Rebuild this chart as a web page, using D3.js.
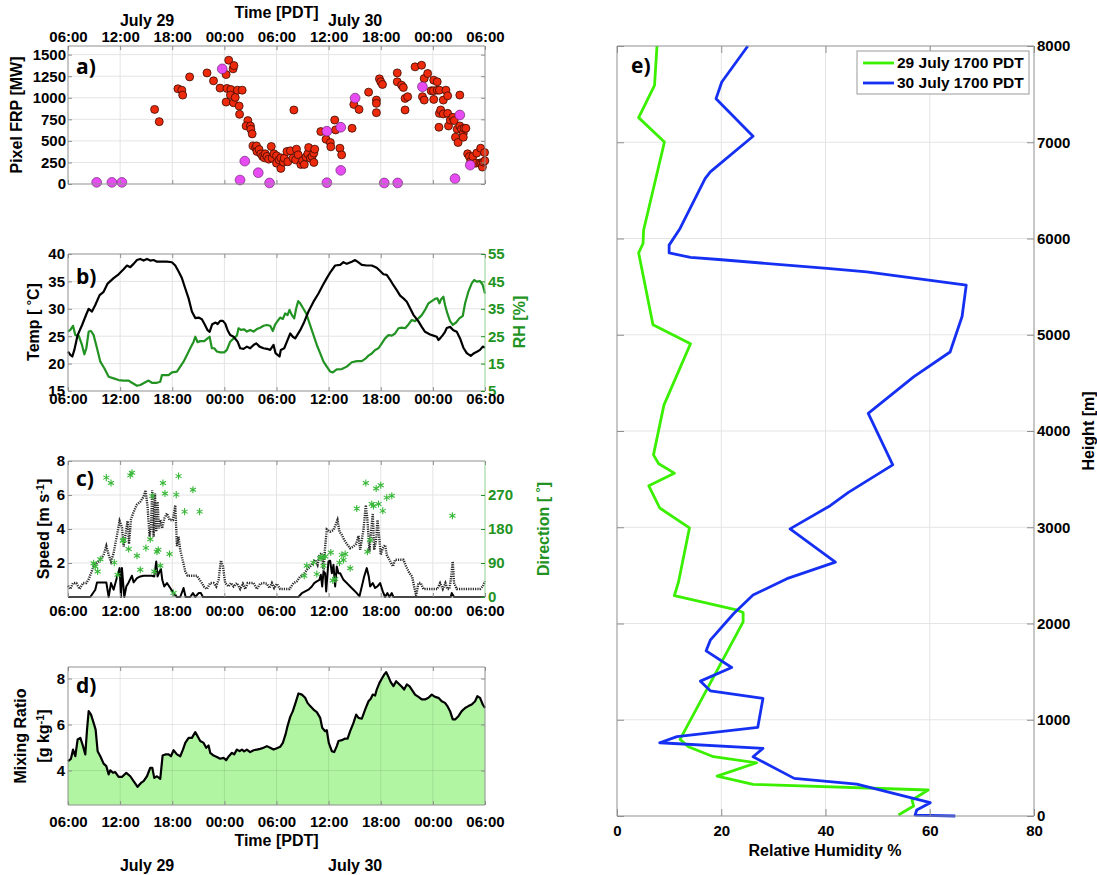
<!DOCTYPE html>
<html>
<head>
<meta charset="utf-8">
<script src="https://cdn.jsdelivr.net/npm/d3@7"></script>
<style>
  body { margin: 0; background: #fff; }
  svg text { font-family: "Liberation Sans", Arial, Helvetica, sans-serif; font-weight: bold; }
</style>
</head>
<body>
<svg id="fig" width="1097" height="875"></svg>
<script>
// ---- observations: times are hours after 06:00 PDT, 29 July ----
const frpFire = [
  [9.97,865],[10.5,723],[12.65,1104],[13.1,1088],[13.2,1031],[14.0,1242],[16.0,1288],[16.75,1196],[17.5,1112],
  [18.2,1269],[18.5,1435],[19.0,1335],[19.1,1373],[18.3,1108],[18.2,950],[18.75,1096],[18.7,1031],[19.05,942],
  [19.25,1004],[19.5,1088],[20.05,1088],[19.7,904],[19.75,808],[20.7,735],[20.5,673],[21.0,673],[21.05,635],
  [21.2,581],[21.3,442],[21.6,420],[21.7,442],[21.75,377],[22.0,400],[22.2,350],[22.4,320],[22.6,304],[22.7,350],
  [22.9,320],[23.1,288],[23.4,435],[23.5,300],[23.7,350],[24.0,327],[24.0,242],[24.3,280],[24.5,304],[24.5,181],
  [24.8,254],[24.9,300],[25.2,377],[25.3,258],[25.6,385],[25.9,300],[26.0,858],[26.2,280],[26.3,404],[26.5,338],
  [26.8,227],[27.0,270],[27.2,227],[27.4,312],[27.6,350],[27.7,423],[27.9,300],[28.1,319],[28.3,250],[28.3,358],
  [28.4,404],[29.1,608],[29.7,519],[30.2,481],[30.25,431],[30.7,742],[30.8,627],[31.3,415],[31.5,338],[32.7,646],
  [32.9,923],[33.5,865],[34.6,1065],[35.5,973],[35.5,935],[35.5,827],[35.85,1219],[36.0,1185],[36.2,1154],
  [37.9,1288],[37.9,1185],[38.4,1146],[38.6,1119],[38.8,992],[39.1,1012],[38.8,858],[39.95,1358],[40.7,1377],
  [41.0,1223],[40.8,1012],[41.0,973],[41.4,1281],[41.8,1081],[42.1,1204],[42.1,981],[42.06,1081],[42.5,1185],
  [42.5,1088],[42.75,1088],[42.75,819],[42.7,658],[42.9,858],[43.2,973],[43.5,1088],[43.7,1023],[43.2,812],
  [43.7,819],[43.8,673],[44.0,742],[44.3,773],[44.45,735],[44.8,635],[44.6,542],[44.9,481],[45.1,1031],[45.1,673],
  [45.3,635],[45.5,588],[45.5,542],[45.6,646],[45.8,646],[46.0,350],[46.2,319],[46.35,262],[46.6,319],[46.95,242],
  [47.05,358],[47.4,242],[47.5,415],[47.6,242],[47.7,196],[47.8,254],[47.95,365],[47.98,269]
];
const frpOther = [
  [3.3,19],[5.05,19],[6.2,19],[17.75,1335],[19.8,46],[20.35,265],[21.9,131],[23.2,12],[29.8,15],[29.8,612],
  [31.4,658],[31.4,158],[33.05,996],[36.4,12],[37.95,12],[40.8,1127],[44.55,62],[45.1,800],[46.3,219]
];
const temperature = [
  [0,22.2],[0.27,21.6],[0.5,21.3],[0.73,22.5],[1.11,25.2],[1.61,27.0],[2.11,29.0],[2.38,30.0],[2.76,29.5],[3.14,30.7],
  [3.64,32.5],[4.1,33.1],[4.56,34.6],[5.25,35.6],[5.83,36.3],[6.4,37.2],[6.79,37.9],[7.17,37.6],[7.55,38.2],[7.94,38.9],
  [8.32,39.1],[8.7,38.8],[9.09,39.1],[9.47,38.8],[9.85,38.9],[10.24,38.6],[10.62,38.6],[11.39,38.6],[11.96,38.5],
  [12.35,37.9],[12.73,36.8],[13.11,35.6],[13.5,33.7],[13.88,31.9],[14.26,29.5],[14.65,28.3],[15.03,28.4],[15.41,28.1],
  [15.68,27.3],[16.07,26.1],[16.3,25.8],[16.6,27.2],[16.99,27.5],[17.22,27.2],[17.52,27.8],[17.83,27.8],[18.1,27.3],
  [18.37,26.1],[18.67,25.2],[19.06,24.9],[19.52,24.0],[19.82,22.8],[20.21,22.7],[20.59,23.1],[20.97,22.8],[21.36,23.4],
  [21.66,23.7],[22.05,23.1],[22.51,22.8],[22.89,22.7],[23.27,22.5],[23.66,23.4],[23.89,21.9],[24.12,21.6],[24.35,21.3],
  [24.5,22.5],[24.89,22.8],[25.27,24.3],[25.58,25.5],[25.88,24.9],[26.15,24.6],[26.42,25.3],[26.73,26.1],[27.19,27.6],
  [27.68,29.5],[28.26,31.3],[28.83,32.8],[29.33,34.3],[29.79,35.6],[30.25,36.8],[30.75,37.9],[31.33,38.0],[31.71,38.5],
  [32.09,38.2],[32.67,38.6],[33.05,38.9],[33.32,38.6],[33.82,38.0],[34.39,37.9],[34.97,37.9],[35.54,37.5],[35.93,36.9],
  [36.31,36.3],[36.69,36.2],[37.08,35.3],[37.46,34.3],[37.84,33.4],[38.23,32.4],[38.61,31.9],[39.0,31.3],[39.38,30.1],
  [39.76,28.9],[40.34,27.7],[40.72,26.7],[41.1,25.8],[41.68,25.3],[42.06,25.1],[42.45,24.9],[42.64,24.3],[42.83,24.6],
  [43.14,25.2],[43.4,25.8],[43.6,26.5],[43.98,26.7],[44.36,26.1],[44.75,25.8],[45.13,24.6],[45.51,22.9],[45.9,21.9],
  [46.36,21.4],[46.74,21.9],[47.12,22.2],[47.43,22.5],[47.74,23.1],[48,22.9]
];
const relHumidity = [
  [0,26.7],[0.27,27.3],[0.58,28.8],[0.84,25.4],[1.23,25.2],[1.61,21.8],[1.88,18.4],[2.11,20.6],[2.38,26.7],[2.65,26.9],
  [2.95,25.4],[3.34,20.6],[3.72,15.7],[4.18,13.3],[4.68,10.2],[5.25,9.6],[5.83,9.0],[6.4,8.8],[6.98,8.8],[7.36,8.0],
  [7.94,6.9],[8.32,7.2],[8.9,8.2],[9.28,8.8],[9.66,8.0],[10.24,8.0],[10.62,8.4],[10.81,10.8],[11.2,10.8],[11.58,10.8],
  [11.96,11.8],[12.54,12.1],[12.92,13.9],[13.3,15.7],[13.69,18.1],[14.07,20.6],[14.46,23.0],[14.65,24.8],[14.92,22.8],
  [15.22,23.2],[15.68,23.2],[16.07,24.2],[16.3,24.8],[16.56,20.6],[16.83,20.6],[17.14,19.4],[17.52,19.1],[17.98,19.1],
  [18.29,20.0],[18.67,23.0],[19.06,24.2],[19.44,25.2],[19.63,27.9],[19.9,27.3],[20.28,27.5],[20.59,26.7],[20.97,27.3],
  [21.36,26.7],[21.74,27.6],[22.12,28.1],[22.51,28.8],[22.89,29.1],[23.27,28.8],[23.58,26.9],[23.85,29.3],[24.12,30.5],
  [24.42,31.8],[24.73,31.3],[25.0,33.3],[25.27,32.7],[25.5,34.6],[25.77,32.7],[26.04,31.5],[26.27,35.2],[26.5,37.8],
  [26.73,37.0],[27.03,35.4],[27.42,33.3],[27.8,29.7],[28.26,25.4],[28.64,21.8],[29.03,18.7],[29.41,15.7],[29.79,13.9],
  [30.18,12.1],[30.48,11.8],[30.94,12.9],[31.52,13.0],[32.09,13.9],[32.67,15.5],[33.24,15.9],[33.82,15.9],[34.2,16.7],
  [34.59,17.9],[34.97,18.7],[35.35,20.0],[35.74,20.6],[36.12,22.4],[36.5,24.2],[36.89,25.4],[37.27,25.2],[37.65,26.0],
  [38.04,27.9],[38.42,28.1],[38.8,27.9],[39.19,29.3],[39.57,30.9],[39.95,30.5],[40.34,31.5],[40.72,32.7],[41.1,34.6],
  [41.49,37.0],[41.87,37.8],[42.25,38.6],[42.52,38.8],[42.75,37.0],[42.91,38.3],[43.21,39.4],[43.4,36.4],[43.67,33.3],
  [43.98,30.5],[44.29,29.1],[44.67,30.0],[45.05,31.5],[45.44,32.4],[45.71,37.0],[46.09,41.3],[46.47,44.3],[46.74,45.5],
  [47.05,44.9],[47.43,45.1],[47.74,43.7],[48,40.6]
];
const windGust = [
  [0,0.66],[0.27,0.47],[0.58,0.82],[0.96,0.82],[1.34,0.47],[1.73,0.82],[2.11,0.82],[2.38,1.05],[2.65,1.4],[2.95,1.83],
  [3.34,2.0],[3.72,2.19],[4.1,2.48],[4.41,3.0],[4.68,2.48],[4.95,2.09],[5.25,2.58],[5.64,3.65],[5.94,4.47],[6.21,4.1],
  [6.4,2.97],[6.71,3.98],[6.86,4.47],[7.02,3.12],[7.25,4.57],[7.55,5.0],[7.94,5.44],[8.32,5.6],[8.7,5.9],[8.93,6.28],
  [9.16,5.3],[9.39,3.55],[9.55,4.14],[9.7,6.28],[9.85,3.55],[10.01,6.08],[10.16,3.84],[10.31,5.6],[10.47,4.04],
  [10.62,4.53],[10.85,4.04],[11.08,4.62],[11.39,4.92],[11.69,4.53],[12.08,4.53],[12.35,5.4],[12.54,2.97],[12.73,3.55],
  [12.92,2.77],[13.23,2.09],[13.5,1.5],[13.77,1.25],[14.15,1.25],[14.84,1.25],[15.15,1.01],[15.41,0.82],[15.68,0.59],
  [15.99,0.47],[16.37,0.82],[16.76,0.82],[17.06,0.62],[17.33,1.01],[17.6,2.15],[17.83,1.8],[18.1,0.82],[18.48,0.62],
  [18.75,0.82],[19.06,0.62],[19.44,0.82],[19.82,0.47],[20.13,0.78],[20.4,0.47],[20.67,0.82],[21.36,0.82],[21.74,0.47],
  [22.12,0.78],[22.51,0.82],[22.89,0.78],[23.2,0.53],[23.47,0.82],[23.73,0.53],[24.04,0.78],[24.42,0.47],[25.5,0.47],
  [25.96,0.82],[26.34,0.92],[26.73,1.21],[27.11,1.31],[27.49,1.6],[27.88,1.8],[28.18,2.0],[28.45,2.19],[28.72,1.89],
  [28.95,2.48],[29.22,2.58],[29.41,1.56],[29.6,2.97],[29.79,3.98],[30.18,3.84],[30.56,3.94],[30.75,4.18],[31.02,4.53],
  [31.25,3.84],[31.52,3.65],[31.79,3.36],[32.09,3.12],[32.48,2.87],[32.86,2.97],[33.17,3.12],[33.44,3.59],[33.63,2.77],
  [33.82,3.36],[34.01,3.94],[34.28,5.4],[34.47,4.53],[34.7,2.67],[34.85,3.65],[35.08,4.92],[35.24,2.77],[35.47,3.36],
  [35.62,4.53],[35.85,3.36],[36.0,2.48],[36.23,2.87],[36.5,3.06],[36.69,2.48],[37.0,2.19],[37.39,1.8],[37.65,2.19],
  [38.23,2.19],[38.61,2.19],[38.92,1.8],[39.3,1.4],[39.61,1.21],[39.84,0.62],[40.07,0.08],[40.34,0.82],[40.61,0.82],
  [40.91,0.47],[42.52,0.47],[42.83,0.82],[43.14,0.47],[43.44,0.82],[43.67,0.47],[43.9,0.47],[44.06,1.01],[44.29,2.09],
  [44.44,0.82],[44.75,0.47],[47.43,0.47],[47.74,0.62],[48,0.92]
];
const windMean = [
  [0,0],[2.57,0],[3.14,0.43],[3.34,0.86],[4.41,0.86],[4.68,0],[4.95,0.82],[5.25,0.43],[5.56,1.01],[5.94,1.7],[6.1,0],
  [6.21,1.7],[6.48,0],[6.71,0.62],[6.98,0.86],[7.36,1.25],[7.55,0.86],[7.94,1.11],[8.32,1.21],[8.7,1.25],[9.66,1.25],
  [9.93,1.21],[10.16,2.09],[10.31,1.21],[10.54,1.5],[10.7,1.64],[10.85,1.01],[11.08,0.62],[11.39,0.82],[11.77,0.53],
  [12.15,0.23],[12.54,0],[12.92,0],[13.3,0.53],[13.54,0],[14.07,0],[14.38,0.23],[14.65,0],[15.03,0.23],[15.3,0.23],
  [15.53,0],[26.53,0],[26.92,0.23],[27.3,0.33],[27.68,0.43],[28.07,0.62],[28.34,0.82],[28.64,0.92],[28.95,1.01],
  [29.1,1.31],[29.26,0.62],[29.41,1.5],[29.6,1.4],[29.72,0.33],[29.98,2.09],[30.18,2.13],[30.37,1.4],[30.56,1.89],
  [30.75,0.62],[30.94,1.8],[31.13,1.4],[31.33,1.4],[31.71,1.01],[32.09,0.82],[32.48,0.62],[32.86,0.43],[33.24,0.23],
  [33.55,0.04],[33.82,0.62],[34.09,1.21],[34.39,1.7],[34.62,1.21],[34.78,0.62],[35.08,0.82],[35.35,0.53],[35.62,0.62],
  [35.93,0.82],[36.23,0.33],[36.5,0],[36.77,0.23],[37.0,0],[37.27,0.23],[37.46,0],[44.06,0],[44.17,0.23],[44.44,0],[48,0]
];
const windDirection = [
  [2.95,89.6],[3.14,80.8],[3.41,67.6],[3.72,100],[4.41,316],[4.95,302],[5.33,91],[5.71,58.8],[6.33,149],[6.4,151],
  [6.98,127],[7.17,322],[7.36,329],[7.94,109],[8.32,72],[8.97,130],[9.47,153],[9.7,267],[9.93,67.6],[10.24,120],
  [10.39,125],[10.62,82.5],[10.93,302],[11.16,274],[11.69,114],[12.15,10.5],[12.46,271],[12.73,320],[13.42,226],
  [14.38,284],[15.15,226],[27.19,56],[27.49,82.5],[28.26,91],[28.64,60.6],[29.03,103],[29.22,105],[29.41,82.5],
  [29.6,107],[30.25,118],[30.48,43.9],[30.75,47.4],[31.25,91],[31.52,111.5],[31.71,98],[31.9,114],[32.48,76],
  [33.24,234],[34.28,302],[34.47,120],[34.78,151],[34.97,246],[35.16,241],[35.47,287],[35.74,246],[36.0,296],
  [36.23,228],[36.69,263],[37.27,268],[44.25,215]
];
const mixingRatio = [
  [0,4.41],[0.34,4.51],[0.58,4.91],[0.84,4.62],[1.11,5.35],[1.42,5.42],[1.73,5.06],[1.99,4.7],[2.19,5.78],[2.38,6.58],
  [2.65,6.43],[2.95,6.07],[3.18,5.78],[3.41,4.84],[3.72,4.62],[4.1,4.3],[4.41,4.19],[4.68,3.83],[4.87,4.01],[5.18,3.9],
  [5.44,3.93],[5.83,3.72],[6.21,3.72],[6.71,3.9],[7.17,3.75],[7.55,3.54],[8.01,3.29],[8.4,3.46],[8.7,3.54],[9.09,3.75],
  [9.47,4.12],[9.7,4.12],[9.93,3.68],[10.24,3.75],[10.62,3.64],[10.89,4.65],[11.2,4.7],[11.58,4.7],[11.85,4.62],
  [12.15,4.88],[12.54,4.7],[12.92,4.62],[13.23,4.91],[13.5,5.2],[13.88,5.42],[14.26,5.42],[14.65,5.67],[14.92,5.49],
  [15.22,5.28],[15.61,5.2],[15.91,4.99],[16.18,5.09],[16.37,4.77],[16.76,4.65],[17.14,4.59],[17.52,4.51],[17.91,4.55],
  [18.21,4.45],[18.52,4.62],[18.87,4.77],[19.13,4.7],[19.44,4.91],[19.75,4.84],[20.02,4.91],[20.28,4.83],[20.59,4.91],
  [20.97,4.8],[21.36,4.88],[21.74,4.91],[22.12,4.94],[22.51,4.99],[22.89,5.06],[23.27,4.99],[23.66,4.91],[24.04,4.97],
  [24.42,5.03],[24.73,5.2],[25.04,5.57],[25.27,5.93],[25.58,6.33],[25.88,6.58],[26.19,6.94],[26.53,7.35],[26.92,7.3],
  [27.3,7.16],[27.57,6.94],[27.88,6.8],[28.26,6.65],[28.64,6.54],[29.03,6.29],[29.26,5.86],[29.6,5.71],[29.79,5.75],
  [30.02,5.2],[30.37,4.84],[30.64,4.8],[30.94,5.06],[31.13,5.28],[31.52,5.32],[31.9,5.39],[32.17,5.38],[32.48,5.71],
  [32.86,6.07],[33.17,6.43],[33.44,6.29],[33.82,6.25],[34.2,6.65],[34.59,7.01],[34.85,7.12],[35.08,7.3],[35.35,7.26],
  [35.54,7.52],[35.85,7.81],[36.12,7.99],[36.39,8.17],[36.62,8.28],[36.89,8.07],[37.15,7.84],[37.46,7.67],[37.77,7.88],
  [38.04,7.78],[38.42,7.64],[38.69,7.52],[39.0,7.74],[39.3,7.67],[39.57,7.52],[39.95,7.3],[40.34,7.2],[40.72,7.09],
  [41.1,7.09],[41.49,7.16],[41.87,7.3],[42.25,7.2],[42.64,7.16],[43.02,7.01],[43.4,6.94],[43.67,6.8],[43.98,6.58],
  [44.29,6.22],[44.56,6.22],[44.94,6.36],[45.32,6.58],[45.71,6.72],[46.09,6.8],[46.47,6.87],[46.86,7.01],[47.12,7.23],
  [47.43,7.16],[47.74,6.87],[48,6.72]
];
// soundings: [relative humidity %, height m]
const sounding29 = [
  [7.67,8000],[7.2,7592],[4.15,7256],[9.1,7003],[5.1,6086],[5.0,5948],[4.15,5851],[6.9,5103],[14.1,4907],[9.0,4269],
  [7.0,3752],[8.0,3659],[11.0,3562],[6.1,3431],[8.2,3200],[13.9,2993],[11.8,2431],[11.0,2290],[22.7,2145],[24.2,2114],
  [24.2,2017],[12.1,796],[13.7,720],[18.5,616],[26.8,553],[19.2,415],[26.1,329],[59.7,270],[56.6,166],[56.9,104],[54.0,10]
];
const sounding30 = [
  [25.1,8000],[20.1,7626],[19.0,7453],[26.1,7062],[17.9,6692],[16.9,6623],[12.1,6104],[10.0,5931],[10.0,5851],
  [14.1,5803],[19.5,5782],[40.3,5689],[47.9,5654],[67.0,5516],[66.2,5190],[63.9,4821],[56.9,4562],[48.2,4183],
  [52.9,3648],[44.4,3362],[40.9,3224],[33.2,2983],[41.9,2638],[32.6,2466],[26.1,2295],[22.4,2104],[17.9,1827],
  [17.1,1716],[22.0,1543],[16.0,1401],[17.9,1301],[28.0,1221],[27.0,920],[11.5,824],[8.2,761],[28.0,702],[26.1,616],
  [34.0,391],[46.0,332],[60.1,138],[57.5,62],[57.2,10],[64.9,0]
];
const soundingNames = ["29 July 1700 PDT", "30 July 1700 PDT"];

const frpTicks = [0, 250, 500, 750, 1000, 1250, 1500];
const tempTicks = [15, 20, 25, 30, 35, 40];
const rhTicks = [5, 15, 25, 35, 45, 55];
const speedTicks = [2, 4, 6, 8];
const dirTicks = [0, 90, 180, 270];
const mixTicks = [4, 6, 8];
const rhProfileTicks = [0, 20, 40, 60, 80];
const heightTicks = [0, 1000, 2000, 3000, 4000, 5000, 6000, 7000, 8000];
const dayLabels = [["July 29", 9.1], ["July 30", 33.05]];

// ---- layout & style ----
const START = new Date(2018, 6, 29, 6, 0, 0);
const toTime = h => new Date(+START + h * 3600000);
const fmtHM = d3.timeFormat('%H:%M');
const fmtInt = d3.format('d');
const BOX = '#8f8f8f', GRID = '#e4e4e4', GREEN = '#229322', STAR = '#39b839';
const FONT = 'bold 15px "Liberation Sans", Arial, sans-serif';
const TITLE = 'bold 16px "Liberation Sans", Arial, sans-serif';

const svg = d3.select('#fig');
const xT = d3.scaleTime().domain([START, toTime(48)]).range([68, 485]);
const hourTicks = xT.ticks(d3.timeHour.every(6));

function styleAxis(sel, color, lineColor) {
  sel.attr('font-size', null).attr('font-family', null);
  sel.select('.domain').remove();
  sel.selectAll('.tick line').attr('stroke', lineColor || BOX);
  sel.selectAll('.tick text').attr('fill', color || '#000').style('font', FONT);
  return sel;
}

function grid(g, x, y, xt, yt) {
  const [x0, x1] = x.range(), [y0, y1] = y.range();
  g.append('g').attr('class', 'grid').selectAll('line').data(xt.filter(t => +x(t) > x0 + 0.5 && +x(t) < x1 - 0.5)).join('line')
    .attr('x1', d => x(d)).attr('x2', d => x(d)).attr('y1', y0).attr('y2', y1)
    .attr('stroke', GRID).attr('stroke-width', 1);
  g.append('g').attr('class', 'grid').selectAll('line').data(yt.filter(t => y(t) < y0 - 0.5 && y(t) > y1 + 0.5)).join('line')
    .attr('y1', d => y(d)).attr('y2', d => y(d)).attr('x1', x0).attr('x2', x1)
    .attr('stroke', GRID).attr('stroke-width', 1);
}

function frame(g, x, y, rightColor) {
  const [x0, x1] = x.range(), [y0, y1] = y.range();
  const seg = (a, b, c, d, col) => g.append('line').attr('x1', a).attr('y1', b).attr('x2', c).attr('y2', d)
    .attr('stroke', col).attr('stroke-width', 1);
  seg(x0, y0, x1, y0, BOX); seg(x0, y1, x1, y1, BOX); seg(x0, y0, x0, y1, BOX);
  seg(x1, y0, x1, y1, rightColor || BOX);
}

function yTitle(x, y, parts, color) {
  const t = svg.append('text').attr('transform', `translate(${x},${y}) rotate(-90)`)
    .attr('text-anchor', 'middle').attr('dy', '0.35em').attr('fill', color || '#000')
    .style('font', TITLE);
  parts.forEach(p => {
    if (typeof p === 'string') t.append('tspan').text(p);
    else t.append('tspan').attr('dy', p.dy).attr('font-size', p.size || 16).text(p.text);
  });
  return t;
}

function panelTag(x, y, s) {
  svg.append('text').attr('x', x).attr('y', y).text(s)
    .style('font', 'bold 21px "Open Sans", "Liberation Sans", sans-serif');
}

const timeLine = (y) => d3.line().x(d => xT(toTime(d[0]))).y(d => y(d[1]));

// ---- a) pixel FRP ----
{
  const y = d3.scaleLinear().domain([0, 1600]).range([184, 46]);
  const g = svg.append('g');
  grid(g, xT, y, hourTicks, frpTicks);
  g.append('g').selectAll('circle').data(frpFire).join('circle')
    .attr('cx', d => xT(toTime(d[0]))).attr('cy', d => y(d[1])).attr('r', 4)
    .attr('fill', '#ee2a0c').attr('stroke', '#3a0a00').attr('stroke-width', 0.8);
  g.append('g').selectAll('circle').data(frpOther).join('circle')
    .attr('cx', d => xT(toTime(d[0]))).attr('cy', d => y(d[1])).attr('r', 4.9)
    .attr('fill', '#e74cf2').attr('stroke', '#5a1a60').attr('stroke-width', 0.6);
  frame(g, xT, y);
  styleAxis(g.append('g').attr('transform', 'translate(68,0)')
    .call(d3.axisLeft(y).tickValues(frpTicks).tickFormat(fmtInt).tickSizeInner(-4).tickSizeOuter(0).tickPadding(2)));
  styleAxis(g.append('g').attr('transform', 'translate(485,0)')
    .call(d3.axisRight(y).tickValues(frpTicks).tickFormat('').tickSizeInner(-4).tickSizeOuter(0)));
  styleAxis(g.append('g').attr('transform', 'translate(0,46)')
    .call(d3.axisTop(xT).tickValues(hourTicks).tickFormat(fmtHM).tickSizeInner(-4).tickSizeOuter(0).tickPadding(4)));
  styleAxis(g.append('g').attr('transform', 'translate(0,184)')
    .call(d3.axisBottom(xT).tickValues(hourTicks).tickFormat('').tickSizeInner(-4).tickSizeOuter(0)));
  svg.append('text').attr('x', xT(toTime(24))).attr('y', 18).attr('text-anchor', 'middle').style('font', TITLE).text('Time [PDT]');
  svg.append('g').selectAll('text').data(dayLabels).join('text')
    .attr('x', d => xT(toTime(d[1]))).attr('y', 26).attr('text-anchor', 'middle').style('font', TITLE).text(d => d[0]);
  yTitle(16, 115, ['Pixel FRP [MW]']);
  panelTag(76, 74, 'a)');
}

// ---- b) temperature & relative humidity ----
{
  const y = d3.scaleLinear().domain([15, 40]).range([391, 254]);
  const y2 = d3.scaleLinear().domain([5, 55]).range([391, 254]);
  const g = svg.append('g');
  grid(g, xT, y, hourTicks, tempTicks);
  g.append('path').datum(relHumidity).attr('d', timeLine(y2)).attr('fill', 'none')
    .attr('stroke', GREEN).attr('stroke-width', 2.2).attr('stroke-linejoin', 'round');
  g.append('path').datum(temperature).attr('d', timeLine(y)).attr('fill', 'none')
    .attr('stroke', '#000').attr('stroke-width', 2.2).attr('stroke-linejoin', 'round');
  frame(g, xT, y, '#8fd08f');
  styleAxis(g.append('g').attr('transform', 'translate(68,0)')
    .call(d3.axisLeft(y).tickValues(tempTicks).tickFormat(fmtInt).tickSizeInner(-4).tickSizeOuter(0).tickPadding(3)));
  styleAxis(g.append('g').attr('transform', 'translate(485,0)')
    .call(d3.axisRight(y2).tickValues(rhTicks).tickFormat(fmtInt).tickSizeInner(-4).tickSizeOuter(0).tickPadding(3)), GREEN, GREEN);
  styleAxis(g.append('g').attr('transform', 'translate(0,391)')
    .call(d3.axisBottom(xT).tickValues(hourTicks).tickFormat(fmtHM).tickSizeInner(-4).tickSizeOuter(0).tickPadding(2)));
  styleAxis(g.append('g').attr('transform', 'translate(0,254)')
    .call(d3.axisTop(xT).tickValues(hourTicks).tickFormat('').tickSizeInner(-4).tickSizeOuter(0)));
  yTitle(33, 322, ['Temp [ ', {text: '°', dy: -3, size: 13}, {text: 'C]', dy: 3}]);
  yTitle(519, 322, ['RH [%]'], GREEN);
  panelTag(76, 284, 'b)');
}

// ---- c) wind speed & direction ----
{
  const y = d3.scaleLinear().domain([0, 8]).range([597, 461]);
  const y2 = d3.scaleLinear().domain([0, 360]).range([597, 461]);
  const g = svg.append('g');
  grid(g, xT, y, hourTicks, speedTicks);
  g.append('path').datum(windGust).attr('d', timeLine(y)).attr('fill', 'none')
    .attr('stroke', '#2a2a2a').attr('stroke-width', 2.4).attr('stroke-dasharray', '1.2 1.1');
  g.append('path').datum(windMean).attr('d', timeLine(y)).attr('fill', 'none')
    .attr('stroke', '#000').attr('stroke-width', 2).attr('stroke-linejoin', 'round');
  const star = d3.symbol(d3.symbolAsterisk, 34);
  g.append('g').selectAll('path').data(windDirection).join('path')
    .attr('transform', d => `translate(${xT(toTime(d[0]))},${y2(d[1])})`)
    .attr('d', star).attr('fill', 'none').attr('stroke', STAR).attr('stroke-width', 1.1);
  frame(g, xT, y, '#8fd08f');
  styleAxis(g.append('g').attr('transform', 'translate(68,0)')
    .call(d3.axisLeft(y).tickValues(speedTicks).tickFormat(fmtInt).tickSizeInner(-4).tickSizeOuter(0).tickPadding(3)));
  styleAxis(g.append('g').attr('transform', 'translate(485,0)')
    .call(d3.axisRight(y2).tickValues(dirTicks).tickFormat(fmtInt).tickSizeInner(-4).tickSizeOuter(0).tickPadding(3)), GREEN, GREEN);
  styleAxis(g.append('g').attr('transform', 'translate(0,597)')
    .call(d3.axisBottom(xT).tickValues(hourTicks).tickFormat(fmtHM).tickSizeInner(-4).tickSizeOuter(0).tickPadding(8)));
  styleAxis(g.append('g').attr('transform', 'translate(0,461)')
    .call(d3.axisTop(xT).tickValues(hourTicks).tickFormat('').tickSizeInner(-4).tickSizeOuter(0)));
  yTitle(43, 529, ['Speed [m s', {text: '-1', dy: -5, size: 11}, {text: ']', dy: 5}]);
  yTitle(543, 529, ['Direction [ ', {text: '°', dy: -4, size: 13}, {text: ']', dy: 4}], GREEN);
  panelTag(76, 486, 'c)');
}

// ---- d) mixing ratio ----
{
  const y = d3.scaleLinear().domain([2.5, 8.5]).range([805, 667]);
  const g = svg.append('g');
  const area = d3.area().x(d => xT(toTime(d[0]))).y0(805).y1(d => y(d[1]));
  g.append('path').datum(mixingRatio).attr('d', area).attr('fill', '#b1f5a2');
  grid(g, xT, y, hourTicks, mixTicks);
  g.selectAll('.grid line').attr('stroke', 'rgba(0,0,0,0.09)');
  g.append('path').datum(mixingRatio).attr('d', timeLine(y)).attr('fill', 'none')
    .attr('stroke', '#000').attr('stroke-width', 2.2).attr('stroke-linejoin', 'round');
  frame(g, xT, y);
  styleAxis(g.append('g').attr('transform', 'translate(68,0)')
    .call(d3.axisLeft(y).tickValues(mixTicks).tickFormat(fmtInt).tickSizeInner(-4).tickSizeOuter(0).tickPadding(3)));
  styleAxis(g.append('g').attr('transform', 'translate(485,0)')
    .call(d3.axisRight(y).tickValues(mixTicks).tickFormat('').tickSizeInner(-4).tickSizeOuter(0)));
  styleAxis(g.append('g').attr('transform', 'translate(0,805)')
    .call(d3.axisBottom(xT).tickValues(hourTicks).tickFormat(fmtHM).tickSizeInner(-4).tickSizeOuter(0).tickPadding(11)));
  styleAxis(g.append('g').attr('transform', 'translate(0,667)')
    .call(d3.axisTop(xT).tickValues(hourTicks).tickFormat('').tickSizeInner(-4).tickSizeOuter(0)));
  svg.append('text').attr('x', xT(toTime(24))).attr('y', 846).attr('text-anchor', 'middle').style('font', TITLE).text('Time [PDT]');
  svg.append('g').selectAll('text').data(dayLabels).join('text')
    .attr('x', d => xT(toTime(d[1]))).attr('y', 871).attr('text-anchor', 'middle').style('font', TITLE).text(d => d[0]);
  yTitle(20, 736, ['Mixing Ratio']);
  yTitle(43, 736, ['[g kg', {text: '-1', dy: -5, size: 11}, {text: ']', dy: 5}]);
  panelTag(76, 693, 'd)');
}

// ---- e) relative humidity profiles ----
{
  const x = d3.scaleLinear().domain([0, 80]).range([617, 1034]);
  const y = d3.scaleLinear().domain([0, 8000]).range([816, 46]);
  const g = svg.append('g');
  grid(g, x, y, rhProfileTicks, heightTicks);
  const colors = ['#3af000', '#1530f2'];
  const prof = d3.line().x(d => x(d[0])).y(d => y(d[1]));
  [sounding29, sounding30].forEach((s, i) => {
    g.append('path').datum(s).attr('d', prof).attr('fill', 'none')
      .attr('stroke', colors[i]).attr('stroke-width', 2.8).attr('stroke-linejoin', 'round');
  });
  frame(g, x, y);
  styleAxis(g.append('g').attr('transform', 'translate(617,0)')
    .call(d3.axisLeft(y).tickValues(heightTicks).tickFormat('').tickSizeInner(-7).tickSizeOuter(0)));
  styleAxis(g.append('g').attr('transform', 'translate(1034,0)')
    .call(d3.axisRight(y).tickValues(heightTicks).tickFormat(fmtInt).tickSizeInner(-7).tickSizeOuter(0).tickPadding(3)));
  styleAxis(g.append('g').attr('transform', 'translate(0,816)')
    .call(d3.axisBottom(x).tickValues(rhProfileTicks).tickFormat(fmtInt).tickSizeInner(-7).tickSizeOuter(0).tickPadding(9)));
  styleAxis(g.append('g').attr('transform', 'translate(0,46)')
    .call(d3.axisTop(x).tickValues(rhProfileTicks).tickFormat('').tickSizeInner(-7).tickSizeOuter(0)));
  svg.append('text').attr('x', 825).attr('y', 856).attr('text-anchor', 'middle').style('font', TITLE).text('Relative Humidity %');
  yTitle(1088, 431, ['Height [m]']);
  panelTag(631, 73, 'e)');

  const lg = svg.append('g').attr('transform', 'translate(857,51)');
  lg.append('rect').attr('width', 172).attr('height', 43).attr('fill', '#fff').attr('stroke', '#9a9a9a');
  soundingNames.forEach((name, i) => {
    lg.append('line').attr('x1', 6).attr('x2', 37).attr('y1', 12 + i * 20).attr('y2', 12 + i * 20)
      .attr('stroke', colors[i]).attr('stroke-width', 2.8);
    lg.append('text').attr('x', 40).attr('y', 12 + i * 20).attr('dy', '0.35em')
      .style('font', 'bold 15.5px "Liberation Sans", Arial, sans-serif').text(name);
  });
}
</script>
</body>
</html>
